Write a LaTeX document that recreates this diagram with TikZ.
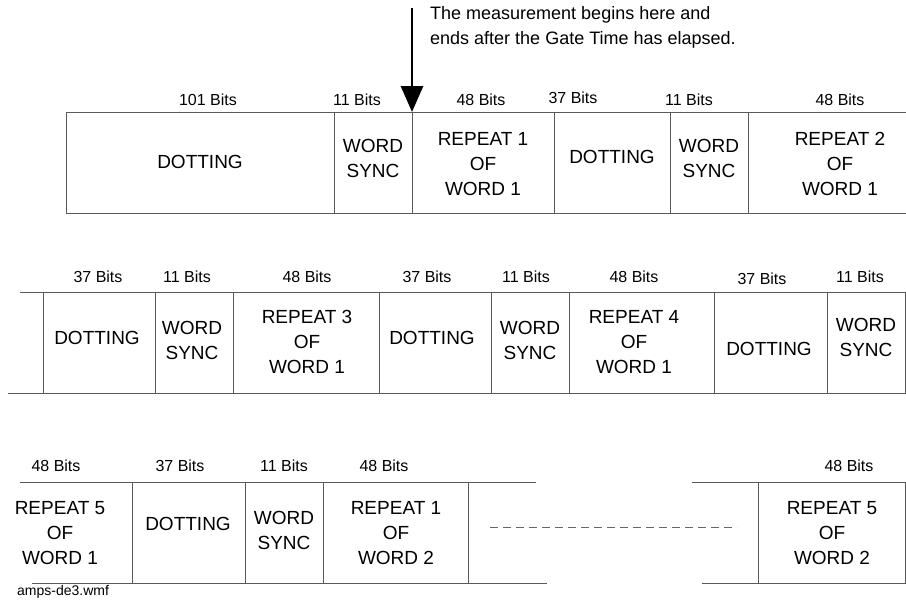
\documentclass[tikz,border=0pt]{standalone}
\usepackage{fontspec}
\setmainfont{Liberation Sans}
\usetikzlibrary{arrows.meta,calc,positioning}
\tikzset{
    frame/.style={draw=black!65,line width=0.9pt},
    gap/.style={draw=black!60,line width=0.8pt,dash pattern=on 8pt off 5pt},
    cell/.style={font=\fontsize{19}{25}\selectfont,align=center,inner sep=0pt},
    bits/.style={font=\fontsize{16}{19}\selectfont,inner sep=0pt},
    note/.style={font=\fontsize{18}{25}\selectfont,align=left,inner sep=0pt},
    marker/.style={line width=2.8pt,-{Triangle[length=26pt,width=22pt]}}
}

\begin{document}
\begin{tikzpicture}[x=1pt,y=-1pt]
  \useasboundingbox (0,0) rectangle (906,605);

  % Zeile 1
  \draw[frame] (906,112) -- (66,112) -- (66,213) -- (906,213);
  \foreach \x in {334,412,554,670,748}{
    \draw[frame] (\x,112) -- (\x,213);
  }
  \foreach \x/\y/\lab [count=\i] in {200/162/DOTTING,373/158/{WORD\\SYNC},
      483/164/{REPEAT 1\\OF\\WORD 1},612/157/DOTTING,709/158/{WORD\\SYNC},
      840/164/{REPEAT 2\\OF\\WORD 1}}{
    \node[cell] (a\i) at (\x,\y) {\lab};
  }
  \foreach \x/\y/\lab [count=\i] in {208/100/101,357/100/11,481/100/48,
      573/98/37,689/100/11,840/100/48}{
    \node[bits] (ba\i) at (\x,\y) {\lab{} Bits};
  }

  % Messbeginn
  \coordinate (gatetop) at (412,8);
  \coordinate (gate)    at (412,112);
  \draw[marker] (gatetop) -- (gate);
  \node[note,anchor=west] (hint) at (430,27)
    {The measurement begins here and\\ends after the Gate Time has elapsed.};

  % Zeile 2
  \draw[frame] (20,292) -- (906,292);
  \draw[frame] (8,393) -- (906,393);
  \foreach \x in {43,155,233,379,491,569,714,827,905}{
    \draw[frame] (\x,292) -- (\x,393);
  }
  \foreach \x/\y/\lab [count=\i] in {97/338/DOTTING,192/340/{WORD\\SYNC},
      307/342/{REPEAT 3\\OF\\WORD 1},432/338/DOTTING,530/340/{WORD\\SYNC},
      634/342/{REPEAT 4\\OF\\WORD 1},769/349/DOTTING,866/337/{WORD\\SYNC}}{
    \node[cell] (b\i) at (\x,\y) {\lab};
  }
  \foreach \x/\y/\lab [count=\i] in {98/277/37,187/277/11,307/277/48,
      427/277/37,526/277/11,634/277/48,762/279/37,860/277/11}{
    \node[bits] (bb\i) at (\x,\y) {\lab{} Bits};
  }

  % Zeile 3
  \draw[frame] (20,482) -- (536,482);
  \draw[frame] (692,482) -- (906,482);
  \draw[frame] (32,583) -- (547,583);
  \draw[frame] (702,583) -- (906,583);
  \foreach \x in {132,245,323,468,758,905}{
    \draw[frame] (\x,482) -- (\x,583);
  }
  \draw[gap] (490,527) -- (737,527);
  \foreach \x/\y/\lab [count=\i] in {60/533/{REPEAT 5\\OF\\WORD 1},
      188/524/DOTTING,284/530/{WORD\\SYNC},396/533/{REPEAT 1\\OF\\WORD 2},
      832/533/{REPEAT 5\\OF\\WORD 2}}{
    \node[cell] (c\i) at (\x,\y) {\lab};
  }
  \foreach \x/\y/\lab [count=\i] in {56/466/48,180/466/37,284/466/11,
      384/466/48,849/466/48}{
    \node[bits] (bc\i) at (\x,\y) {\lab{} Bits};
  }

  \node[font=\fontsize{14}{16}\selectfont,anchor=west,inner sep=0pt] (file)
    at (17,592) {amps-de3.wmf};
\end{tikzpicture}
\end{document}
